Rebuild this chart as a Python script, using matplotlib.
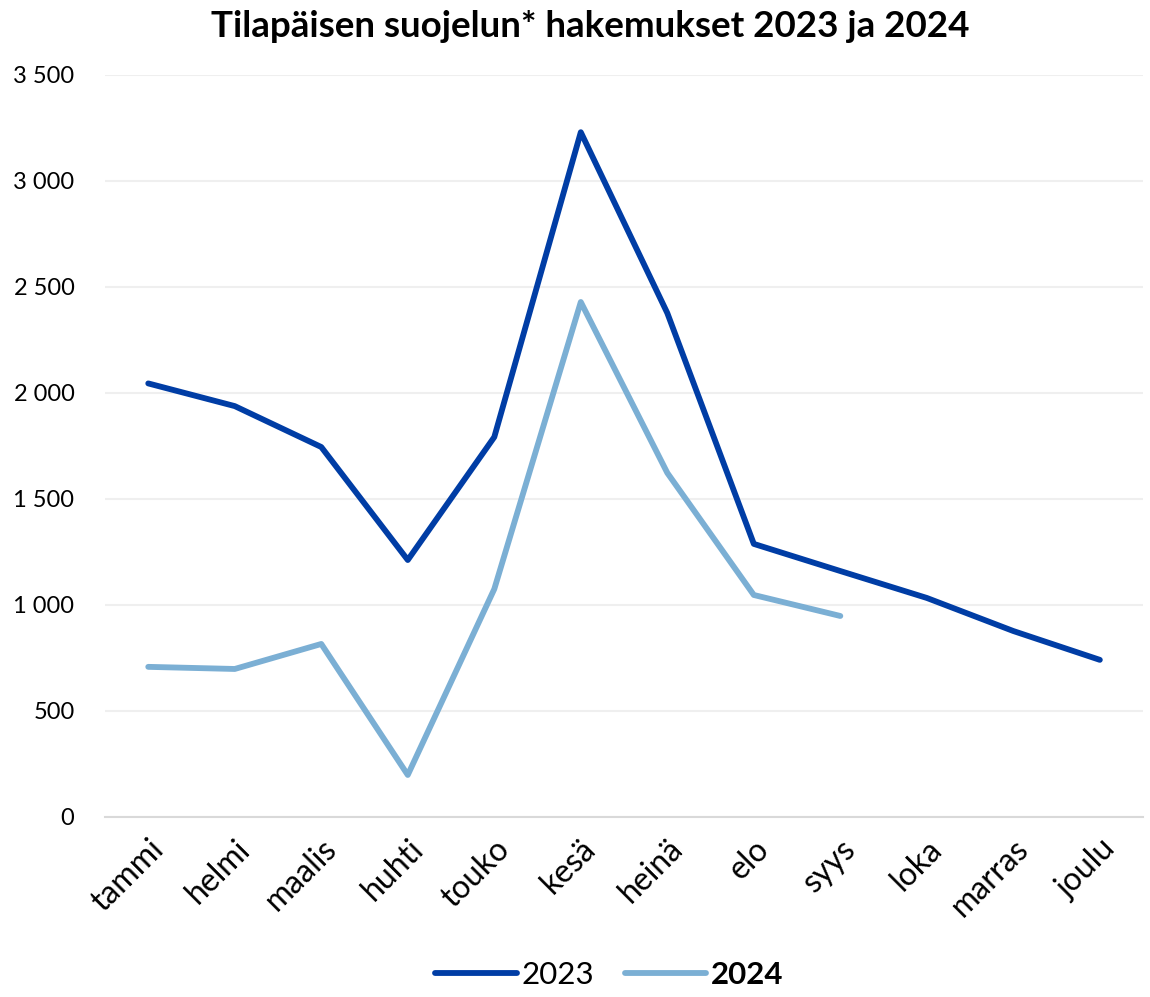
import numpy as np
import matplotlib.pyplot as plt
from matplotlib.ticker import FuncFormatter

plt.rcParams['font.family'] = ['Lato', 'DejaVu Sans']

# data
months = ['tammi', 'helmi', 'maalis', 'huhti', 'touko', 'kesä',
          'heinä', 'elo', 'syys', 'loka', 'marras', 'joulu']
apps_2023 = [2045, 1938, 1745, 1212, 1792, 3230, 2377, 1288, 1160, 1033, 877, 741]
apps_2024 = [708, 698, 816, 198, 1075, 2429, 1623, 1047, 948]

col_2023 = '#003DA5'
col_2024 = '#7BAFD4'

fig = plt.figure(figsize=(11.5, 9.97), dpi=100)
ax = fig.add_axes([0.0913, 0.1806, 0.9027, 0.7442])

x = np.arange(len(months))
ax.plot(x, apps_2023, color=col_2023, lw=4.2, label='2023', solid_capstyle='round')
ax.plot(x[:len(apps_2024)], apps_2024, color=col_2024, lw=4.2, label='2024',
        solid_capstyle='round')

ax.set_xlim(-0.5, len(months) - 0.5)
ax.set_ylim(0, 3500)
ax.set_yticks(np.arange(0, 3501, 500))
ax.yaxis.set_major_formatter(FuncFormatter(lambda v, p: f'{int(v):,}'.replace(',', ' ')))
ax.set_xticks(x)
ax.set_xticklabels(months, rotation=45, ha='right', rotation_mode='anchor', fontsize=23)
ax.tick_params(axis='y', labelsize=17, length=0, pad=22)
ax.tick_params(axis='x', length=0, pad=12)

ax.grid(axis='y', color='#EFEFEF', lw=1.5)
ax.set_axisbelow(True)
for s in ['top', 'right', 'left']:
    ax.spines[s].set_visible(False)
ax.spines['bottom'].set_color('#D9D9D9')
ax.spines['bottom'].set_linewidth(1.5)

fig.suptitle('Tilapäisen suojelun* hakemukset 2023 ja 2024', fontsize=26.5,
             fontweight='bold', x=0.513, y=0.99)

leg = fig.legend(loc='lower center', bbox_to_anchor=(0.53, -0.02), ncol=2,
                 frameon=False, fontsize=22.5, handlelength=2.6, handletextpad=0.15,
                 columnspacing=1.0)
leg.get_texts()[1].set_fontweight('bold')

fig.savefig('out.png', dpi=100)
